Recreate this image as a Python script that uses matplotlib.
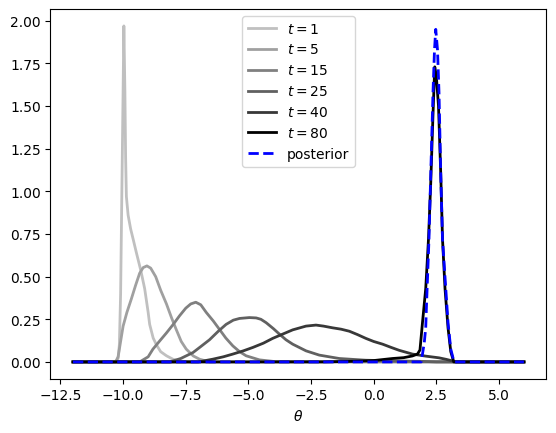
import matplotlib
matplotlib.use("Agg")
import matplotlib.pyplot as plt

# densities, one (x, y) pair of lists per curve
t1_x = [-12, -10.3, -10.2, -10.15, -10.1, -10.05, -10.0, -9.97, -9.93, -9.9, -9.87, -9.8, -9.7, -9.6,
        -9.47, -9.3, -9.14, -9.0, -8.94, -8.8, -8.67, -8.5, -8.27, -8.0, -7.7, -7.3, 6]
t1_y = [0, 0, 0.02, 0.1, 0.4, 1.0, 1.6, 1.97, 1.6, 1.2, 0.97, 0.86, 0.78, 0.72,
        0.64, 0.54, 0.43, 0.29, 0.22, 0.14, 0.1, 0.06, 0.036, 0.015, 0.005, 0, 0]

t5_x = [-12, -10.3, -10.2, -10.1, -10.0, -9.85, -9.67, -9.5, -9.34, -9.2, -9.05, -8.9, -8.7, -8.5,
        -8.27, -8.07, -7.88, -7.68, -7.48, -7.2, -6.95, -6.55, 6]
t5_y = [0, 0, 0.03, 0.12, 0.21, 0.29, 0.37, 0.45, 0.52, 0.553, 0.563, 0.55, 0.50, 0.42,
        0.34, 0.26, 0.19, 0.12, 0.075, 0.035, 0.016, 0, 0]

t15_x = [-12, -9.34, -9.0, -8.81, -8.5, -8.27, -8.0, -7.75, -7.5, -7.3, -7.1, -6.9, -6.68, -6.4,
         -6.15, -5.9, -5.62, -5.35, -5.09, -4.56, -4.0, 6]
t15_y = [0, 0, 0.03, 0.075, 0.13, 0.17, 0.22, 0.27, 0.315, 0.34, 0.35, 0.335, 0.29, 0.24,
         0.19, 0.14, 0.094, 0.06, 0.036, 0.012, 0.003, 0]

t25_x = [-12, -8.14, -7.7, -7.21, -6.9, -6.55, -6.2, -5.89, -5.6, -5.35, -4.96, -4.69, -4.5, -4.29,
         -4.0, -3.76, -3.5, -3.23, -2.7, -2.17, -1.37, -0.31, 0.75, 2.0, 2.5, 6]
t25_y = [0, 0, 0.02, 0.055, 0.09, 0.13, 0.18, 0.22, 0.245, 0.255, 0.26, 0.258, 0.25, 0.23,
         0.195, 0.163, 0.13, 0.104, 0.065, 0.04, 0.02, 0.01, 0.006, 0.003, 0, 0]

t40_x = [-12, -7.0, -6.42, -6.0, -5.62, -5.2, -4.82, -4.4, -4.03, -3.6, -3.23, -2.7, -2.3, -2.0,
         -1.64, -1.3, -0.97, -0.64, -0.31, 0.0, 0.36, 0.7, 1.02, 1.55, 2.08, 2.61, 2.9, 3.3, 6]
t40_y = [0, 0, 0.016, 0.03, 0.046, 0.065, 0.085, 0.11, 0.138, 0.165, 0.188, 0.21, 0.216, 0.21,
         0.2, 0.192, 0.18, 0.16, 0.138, 0.12, 0.104, 0.085, 0.068, 0.046, 0.034, 0.024, 0.015, 0, 0]

t80_x = [-12, -2.0, -1.0, 0.0, 0.75, 1.2, 1.55, 1.75, 1.85, 1.95, 2.08, 2.19, 2.28, 2.37,
         2.44, 2.5, 2.59, 2.68, 2.75, 2.85, 2.97, 3.08, 3.2, 6]
t80_y = [0, 0, 0.003, 0.008, 0.02, 0.025, 0.035, 0.046, 0.07, 0.23, 0.43, 0.72, 1.05, 1.45,
         1.73, 1.68, 1.5, 1.1, 0.72, 0.43, 0.2, 0.06, 0.0, 0]

post_x = [-12, 1.9, 2.02, 2.08, 2.11, 2.21, 2.28, 2.37, 2.43, 2.48, 2.55, 2.61, 2.68, 2.75,
          2.88, 2.97, 3.08, 3.21, 6]
post_y = [0, 0, 0.11, 0.2, 0.33, 0.72, 1.1, 1.58, 1.83, 1.95, 1.83, 1.58, 1.1, 0.72,
          0.43, 0.23, 0.075, 0, 0]

steps = [1, 5, 15, 25, 40, 80]
grays = ['#c0c0c0', '#a0a0a0', '#808080', '#606060', '#383838', '#000000']
curves = [(t1_x, t1_y), (t5_x, t5_y), (t15_x, t15_y), (t25_x, t25_y), (t40_x, t40_y), (t80_x, t80_y)]

fig, ax = plt.subplots(figsize=(6.4, 4.8), dpi=100)
for t, c, (xs, ys) in zip(steps, grays, curves):
    ax.plot(xs, ys, color=c, lw=2, label=f'$t={t}$')
ax.plot(post_x, post_y, color='blue', lw=2, linestyle='--', label='posterior')
ax.set_xlabel(r'$\theta$')
ax.legend(loc='upper center')
fig.savefig('out.png', bbox_inches='tight')
